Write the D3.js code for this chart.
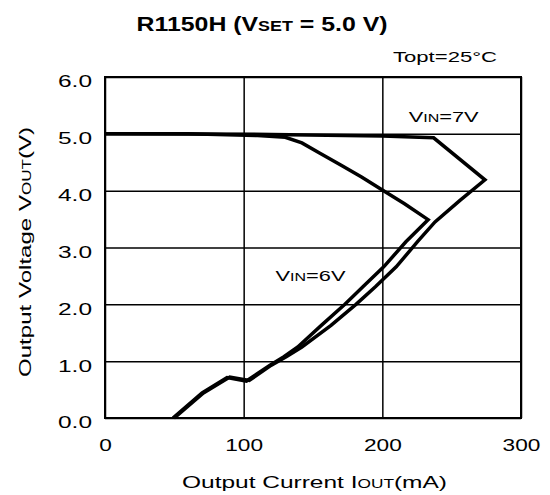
<!DOCTYPE html>
<html>
<head>
<meta charset="utf-8">
<script src="https://cdn.jsdelivr.net/npm/d3@7"></script>
<style>
  body { margin: 0; background: #fff; }
  svg { display: block; font-family: "Liberation Sans", Arial, sans-serif; }
</style>
</head>
<body>
<svg id="chart"></svg>
<script>
// axis ticks
const xTicks = [0, 100, 200, 300]
const yTicks = [0, 1, 2, 3, 4, 5, 6]

// [Iout (mA), Vout (V)], in drawing order
const vin6 = [[0, 5.0], [60, 5.0], [110, 4.97], [130, 4.94], [142, 4.84], [155, 4.66], [170, 4.45],
    [185, 4.24], [200, 4.01], [216, 3.77], [233, 3.49], [217, 3.1], [201, 2.66], [186, 2.31], [173, 2.0],
    [156, 1.63], [139, 1.25], [129, 1.08], [119, 0.93], [102, 0.65], [88, 0.71], [70, 0.44], [49, 0]]
const vin7 = [[0, 5.0], [120, 4.99], [200, 4.96], [237, 4.93], [274, 4.19], [256, 3.83], [238, 3.45],
    [226, 3.12], [210, 2.66], [195, 2.31], [181, 2.0], [163, 1.63], [142, 1.25], [131, 1.08],
    [120, 0.93], [104, 0.66], [90, 0.72], [71, 0.44], [50, 0]]

const W = 550, H = 495
const margin = { top: 77, right: 29, bottom: 77, left: 105 }
const width = W - margin.left - margin.right
const height = H - margin.top - margin.bottom

const svg = d3.select('#chart').attr('width', W).attr('height', H)

// stretch text to the measured width, the source font is a wide one
const fit = (sel, w) => sel.attr('textLength', w).attr('lengthAdjust', 'spacingAndGlyphs')

const chart = svg.append('g')
    .attr('transform', `translate(${margin.left}, ${margin.top})`)

const xScale = d3.scaleLinear().domain([0, 300]).range([0, width])
const yScale = d3.scaleLinear().domain([0, 6]).range([height, 0])

// grid
chart.append('g')
    .attr('class', 'grid x-grid')
    .attr('transform', `translate(0, ${height})`)
    .call(d3.axisBottom(xScale).tickValues(xTicks).tickSize(-height).tickFormat(''))
chart.append('g')
    .attr('class', 'grid y-grid')
    .call(d3.axisLeft(yScale).tickValues(yTicks).tickSize(-width).tickFormat(''))
chart.selectAll('.grid .domain').remove()
chart.selectAll('.grid line').attr('stroke', '#000').attr('stroke-width', 1.5)

// tick labels
const xAxisGroup = chart.append('g')
    .attr('transform', `translate(0, ${height})`)
    .call(d3.axisBottom(xScale).tickValues(xTicks).tickSize(0).tickPadding(21).tickFormat(d3.format('d')))
const yAxisGroup = chart.append('g')
    .call(d3.axisLeft(yScale).tickValues(yTicks).tickSize(0).tickPadding(13).tickFormat(d3.format('.1f')))
xAxisGroup.select('.domain').remove()
yAxisGroup.select('.domain').remove()
xAxisGroup.selectAll('text')
    .attr('font-family', '"Liberation Sans", Arial, sans-serif')
    .attr('font-size', 17).attr('fill', '#000')
    .each(function (d) { fit(d3.select(this), String(d).length * 12.6) })
yAxisGroup.selectAll('text')
    .attr('font-family', '"Liberation Sans", Arial, sans-serif')
    .attr('font-size', 16).attr('fill', '#000')
    .attr('dy', '0.62em')
    .each(function () { fit(d3.select(this), 34) })

// curves
const line = d3.line()
    .x(d => xScale(d[0]))
    .y(d => yScale(d[1]))

chart.selectAll('.curve')
    .data([vin6, vin7])
    .join('path')
    .attr('class', 'curve')
    .attr('fill', 'none')
    .attr('stroke', '#000')
    .attr('stroke-width', 3.5)
    .attr('stroke-linejoin', 'miter')
    .attr('d', line)

// frame
chart.append('rect')
    .attr('width', width).attr('height', height)
    .attr('fill', 'none').attr('stroke', '#000').attr('stroke-width', 2)

// curve labels
const vinLabel = (x, y, v) => {
    const t = chart.append('text')
        .attr('x', xScale(x)).attr('y', yScale(y))
        .attr('font-size', 15)
    t.append('tspan').text('V')
    t.append('tspan').attr('font-size', 11).text('IN')
    t.append('tspan').text(`=${v}V`)
    fit(t, 70)
}
vinLabel(219, 5.2, 7)
vinLabel(123, 2.41, 6)

// title and condition
const title = svg.append('text')
    .attr('x', 262).attr('y', 31)
    .attr('text-anchor', 'middle')
    .attr('font-size', 19.5).attr('font-weight', 'bold')
title.append('tspan').text('R1150H (V')
title.append('tspan').attr('font-size', 14).text('SET')
title.append('tspan').text(' = 5.0 V)')
fit(title, 251)

fit(svg.append('text')
    .attr('x', 393).attr('y', 62)
    .attr('font-size', 15)
    .text('Topt=25°C'), 104)

// axis titles
const xTitle = svg.append('text')
    .attr('x', 182).attr('y', 488)
    .attr('font-size', 17)
xTitle.append('tspan').text('Output Current I')
xTitle.append('tspan').attr('font-size', 12).text('OUT')
xTitle.append('tspan').text('(mA)')
fit(xTitle, 265)

const yTitle = svg.append('text')
    .attr('transform', `translate(31, 377) rotate(-90)`)
    .attr('font-size', 17)
yTitle.append('tspan').text('Output Voltage V')
yTitle.append('tspan').attr('font-size', 12).text('OUT')
yTitle.append('tspan').text('(V)')
fit(yTitle, 250)
</script>
</body>
</html>
